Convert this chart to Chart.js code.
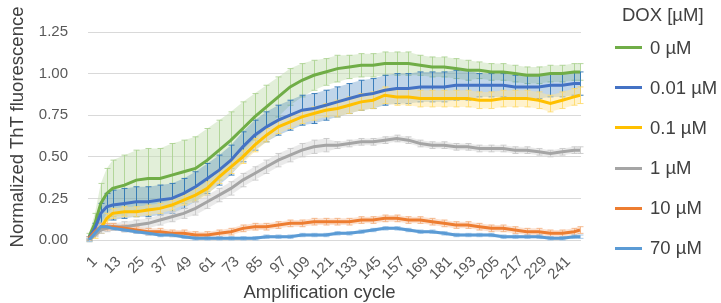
<!DOCTYPE html>
<html>
<head>
<meta charset="utf-8">
<script src="https://cdn.jsdelivr.net/npm/chart.js@4.4.1/dist/chart.umd.min.js"></script>
<style>
    body { margin: 0; background: #fff; font-family: "Liberation Sans", Arial, sans-serif; }
    #wrap { position: relative; width: 721px; height: 303px; }
    #legend { position: absolute; left: 0; top: 0; color: #404040; font-size: 18.5px; }
    #legend .title { position: absolute; left: 622px; top: 4px; white-space: nowrap; }
    #legend .item { position: absolute; left: 615px; white-space: nowrap; display: flex; align-items: center; height: 22px; }
    #legend .swatch { width: 27px; height: 3px; margin-right: 8px; }
    .axisTitle { position: absolute; color: #404040; font-size: 18.5px; line-height: 20px; text-align: center; white-space: nowrap; }
    #xTitle { left: 0; width: 639px; top: 282px; }
    #yTitle { left: -133px; width: 300px; top: 117px; transform: rotate(-90deg); }
</style>
</head>
<body>
<div id="wrap">
    <canvas id="thtChart" width="721" height="303"></canvas>
    <div id="xTitle" class="axisTitle">Amplification cycle</div>
    <div id="yTitle" class="axisTitle">Normalized ThT fluorescence</div>
    <div id="legend"><div class="title">DOX [µM]</div></div>
</div>
<script>
// sampled amplification cycles
const cycles = [1, 4, 7, 10, 13, 19, 25, 31, 37, 43, 49, 55, 61, 67, 73, 79, 85, 91, 97, 103, 109, 115, 121,
    127, 133, 139, 145, 151, 157, 163, 169, 175, 181, 187, 193, 199, 205, 211, 217, 223, 229, 235, 241, 247, 250];
const xTicks = [1, 13, 25, 37, 49, 61, 73, 85, 97, 109, 121, 133, 145, 157, 169, 181, 193, 205, 217, 229, 241];
const yTicks = [0, 0.25, 0.5, 0.75, 1, 1.25];
const labels = ["0 µM", "0.01 µM", "0.1 µM", "1 µM", "10 µM", "70 µM"];

const dox0 = [0.02, 0.10, 0.22, 0.28, 0.31, 0.33, 0.36, 0.37, 0.37, 0.39, 0.41, 0.43, 0.48, 0.54, 0.60, 0.67, 0.74,
    0.80, 0.86, 0.92, 0.96, 0.99, 1.01, 1.03, 1.04, 1.05, 1.05, 1.06, 1.06, 1.06, 1.05, 1.04, 1.04, 1.03, 1.02,
    1.02, 1.01, 1.01, 1.00, 0.99, 0.99, 1.00, 1.00, 1.01, 1.01];
const dox001 = [0.01, 0.07, 0.16, 0.20, 0.21, 0.22, 0.23, 0.23, 0.24, 0.25, 0.28, 0.32, 0.37, 0.42, 0.48, 0.56, 0.63,
    0.68, 0.72, 0.75, 0.78, 0.79, 0.81, 0.83, 0.85, 0.87, 0.88, 0.90, 0.91, 0.91, 0.92, 0.92, 0.92, 0.93, 0.93,
    0.93, 0.93, 0.93, 0.92, 0.92, 0.92, 0.93, 0.93, 0.94, 0.94];
const dox01 = [0.00, 0.03, 0.07, 0.13, 0.16, 0.17, 0.17, 0.18, 0.19, 0.21, 0.24, 0.27, 0.31, 0.38, 0.44, 0.50, 0.57,
    0.63, 0.68, 0.71, 0.74, 0.76, 0.78, 0.79, 0.81, 0.83, 0.84, 0.87, 0.86, 0.86, 0.85, 0.85, 0.85, 0.85, 0.85,
    0.84, 0.84, 0.85, 0.85, 0.85, 0.84, 0.82, 0.84, 0.86, 0.87];
const dox1 = [0.00, 0.03, 0.06, 0.07, 0.08, 0.08, 0.09, 0.10, 0.12, 0.14, 0.16, 0.19, 0.23, 0.27, 0.31, 0.36, 0.40,
    0.44, 0.48, 0.51, 0.54, 0.56, 0.57, 0.57, 0.58, 0.59, 0.59, 0.60, 0.61, 0.60, 0.58, 0.57, 0.57, 0.56, 0.56,
    0.55, 0.55, 0.55, 0.54, 0.54, 0.53, 0.52, 0.53, 0.54, 0.54];
const dox10 = [0.01, 0.05, 0.08, 0.08, 0.08, 0.07, 0.06, 0.05, 0.05, 0.04, 0.04, 0.03, 0.03, 0.04, 0.05, 0.07, 0.08,
    0.08, 0.09, 0.10, 0.10, 0.11, 0.11, 0.11, 0.11, 0.12, 0.12, 0.13, 0.13, 0.12, 0.12, 0.11, 0.10, 0.09, 0.09,
    0.08, 0.07, 0.07, 0.06, 0.05, 0.05, 0.04, 0.04, 0.05, 0.06];
const dox70 = [0.00, 0.04, 0.08, 0.08, 0.07, 0.06, 0.05, 0.04, 0.03, 0.03, 0.02, 0.01, 0.01, 0.01, 0.01, 0.01, 0.01,
    0.02, 0.02, 0.02, 0.03, 0.03, 0.03, 0.04, 0.04, 0.05, 0.06, 0.07, 0.07, 0.06, 0.05, 0.05, 0.04, 0.03, 0.03,
    0.03, 0.03, 0.02, 0.02, 0.02, 0.02, 0.01, 0.01, 0.02, 0.02];

// error bar sizes (+/-)
const dox0Err = [0.02, 0.06, 0.12, 0.15, 0.17, 0.18, 0.18, 0.18, 0.18, 0.19, 0.19, 0.19, 0.19, 0.18, 0.17, 0.16, 0.14,
    0.13, 0.12, 0.11, 0.10, 0.09, 0.08, 0.08, 0.07, 0.07, 0.07, 0.07, 0.07, 0.07, 0.06, 0.06, 0.06, 0.06, 0.06,
    0.05, 0.05, 0.05, 0.05, 0.05, 0.05, 0.05, 0.05, 0.05, 0.05];
const dox001Err = [0.01, 0.03, 0.06, 0.08, 0.09, 0.09, 0.09, 0.09, 0.09, 0.09, 0.09, 0.09, 0.09, 0.09, 0.09, 0.09, 0.09,
    0.09, 0.09, 0.09, 0.09, 0.09, 0.09, 0.09, 0.09, 0.09, 0.09, 0.09, 0.09, 0.09, 0.09, 0.09, 0.09, 0.09, 0.09,
    0.07, 0.07, 0.07, 0.07, 0.07, 0.07, 0.07, 0.07, 0.07, 0.07];
const dox01Err = [0.01, 0.02, 0.03, 0.03, 0.03, 0.03, 0.03, 0.03, 0.03, 0.03, 0.03, 0.04, 0.04, 0.04, 0.04, 0.04, 0.04,
    0.04, 0.04, 0.04, 0.04, 0.04, 0.04, 0.05, 0.05, 0.05, 0.05, 0.05, 0.05, 0.05, 0.05, 0.05, 0.05, 0.05, 0.05,
    0.05, 0.05, 0.05, 0.05, 0.05, 0.05, 0.05, 0.05, 0.05, 0.05];
const dox1Err = [0.01, 0.01, 0.02, 0.02, 0.02, 0.03, 0.03, 0.03, 0.03, 0.03, 0.03, 0.04, 0.04, 0.04, 0.04, 0.04, 0.04,
    0.04, 0.04, 0.04, 0.04, 0.04, 0.04, 0.02, 0.02, 0.02, 0.02, 0.02, 0.02, 0.02, 0.02, 0.02, 0.02, 0.02, 0.02,
    0.02, 0.02, 0.02, 0.02, 0.02, 0.02, 0.02, 0.02, 0.02, 0.02];
const dox10Err = [0.01, 0.02, 0.02, 0.02, 0.02, 0.02, 0.02, 0.02, 0.02, 0.02, 0.02, 0.02, 0.02, 0.02, 0.02, 0.02, 0.02,
    0.02, 0.02, 0.02, 0.02, 0.02, 0.02, 0.02, 0.02, 0.02, 0.02, 0.02, 0.02, 0.02, 0.02, 0.02, 0.02, 0.02, 0.02,
    0.02, 0.02, 0.02, 0.02, 0.02, 0.02, 0.02, 0.02, 0.02, 0.02];
const dox70Err = [0.01, 0.01, 0.01, 0.01, 0.01, 0.01, 0.01, 0.01, 0.01, 0.01, 0.01, 0.01, 0.01, 0.01, 0.01, 0.01, 0.01,
    0.01, 0.01, 0.01, 0.01, 0.01, 0.01, 0.01, 0.01, 0.01, 0.01, 0.01, 0.01, 0.01, 0.01, 0.01, 0.01, 0.01, 0.01,
    0.01, 0.01, 0.01, 0.01, 0.01, 0.01, 0.01, 0.01, 0.01, 0.01];

const values = [dox0, dox001, dox01, dox1, dox10, dox70];
const errors = [dox0Err, dox001Err, dox01Err, dox1Err, dox10Err, dox70Err];
const lineColors = ["#70AD47", "#4472C4", "#FFC000", "#A5A5A5", "#ED7D31", "#5B9BD5"];
const errColors = ["rgba(169,209,142,0.85)", "rgba(46,117,182,0.9)", "rgba(255,217,102,0.85)",
    "rgba(201,201,201,0.9)", "rgba(244,177,131,0.9)", "rgba(157,195,230,0.9)"];
const bandColors = ["rgba(197,224,180,0.5)", "rgba(46,117,182,0.3)", "rgba(255,230,153,0.5)",
    "rgba(217,217,217,0.55)", "rgba(248,203,173,0.55)", "rgba(189,215,238,0.55)"];

const FONT = "'Liberation Sans', Arial, sans-serif";

// draws the +/- error band and whiskers under the lines
const errorBars = {
    id: "errorBars",
    beforeDatasetsDraw(chart) {
        const { ctx, scales: { x, y } } = chart;
        ctx.save();
        chart.data.datasets.forEach(ds => {
            const pts = ds.data;
            ctx.beginPath();
            pts.forEach((p, i) => {
                const px = x.getPixelForValue(p.x), py = y.getPixelForValue(p.y + ds.err[i]);
                if (i === 0) ctx.moveTo(px, py); else ctx.lineTo(px, py);
            });
            for (let i = pts.length - 1; i >= 0; i--) {
                ctx.lineTo(x.getPixelForValue(pts[i].x), y.getPixelForValue(pts[i].y - ds.err[i]));
            }
            ctx.closePath();
            ctx.fillStyle = ds.bandColor;
            ctx.fill();

            ctx.strokeStyle = ds.errColor;
            ctx.lineWidth = 1;
            pts.forEach((p, i) => {
                const px = Math.round(x.getPixelForValue(p.x)) + 0.5;
                const top = y.getPixelForValue(p.y + ds.err[i]);
                const bot = y.getPixelForValue(p.y - ds.err[i]);
                ctx.beginPath();
                ctx.moveTo(px, top); ctx.lineTo(px, bot);
                ctx.moveTo(px - 3, top); ctx.lineTo(px + 3, top);
                ctx.moveTo(px - 3, bot); ctx.lineTo(px + 3, bot);
                ctx.stroke();
            });
        });
        ctx.restore();
    }
};

const datasets = labels.map((name, k) => ({
    label: name,
    data: cycles.map((c, i) => ({ x: c, y: values[k][i] })),
    err: errors[k],
    errColor: errColors[k],
    bandColor: bandColors[k],
    borderColor: lineColors[k],
    backgroundColor: lineColors[k],
    borderWidth: 3,
    pointRadius: 0,
    tension: 0,
    order: labels.length - k
}));

const chart = new Chart(document.getElementById("thtChart"), {
    type: "line",
    data: { datasets: datasets },
    options: {
        responsive: false,
        animation: false,
        layout: { padding: { top: 32, right: 140, bottom: 0, left: 0 } },
        plugins: { legend: { display: false }, tooltip: { enabled: false } },
        scales: {
            x: {
                type: "linear",
                min: 0.5,
                max: 250.5,
                afterFit: s => { s.height = 63; },
                afterBuildTicks: s => { s.ticks = xTicks.map(v => ({ value: v })); },
                grid: { display: false },
                border: { display: false },
                ticks: {
                    autoSkip: false,
                    minRotation: 45,
                    maxRotation: 45,
                    padding: 5,
                    labelOffset: 6,
                    color: "#595959",
                    font: { family: FONT, size: 15 },
                    callback: v => String(v)
                }
            },
            y: {
                min: 0,
                max: 1.25,
                afterFit: s => { s.width = 88; },
                afterBuildTicks: s => { s.ticks = yTicks.map(v => ({ value: v })); },
                grid: { color: "#D9D9D9", lineWidth: 1, drawTicks: false },
                border: { display: false },
                ticks: {
                    padding: 20,
                    color: "#595959",
                    font: { family: FONT, size: 15 },
                    callback: v => v.toFixed(2)
                }
            }
        }
    },
    plugins: [errorBars]
});

// legend on the right
const legend = document.getElementById("legend");
labels.forEach((name, k) => {
    const item = document.createElement("div");
    item.className = "item";
    item.style.top = (47.7 + k * 40.1 - 11) + "px";
    item.innerHTML = `<span class="swatch" style="background:${lineColors[k]}"></span><span>${name}</span>`;
    legend.appendChild(item);
});
</script>
</body>
</html>
